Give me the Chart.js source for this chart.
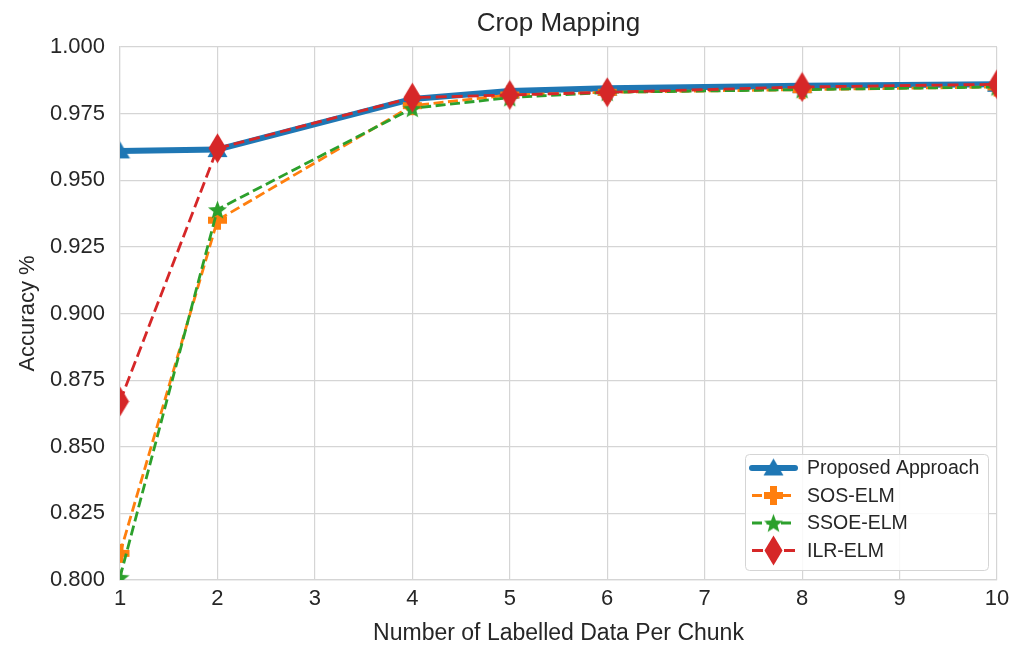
<!DOCTYPE html>
<html>
<head>
<meta charset="utf-8">
<script src="https://cdn.jsdelivr.net/npm/chart.js@4.4.1/dist/chart.umd.min.js"></script>
<style>
  html, body { margin: 0; padding: 0; background: #fff; }
  #wrap { width: 1025px; height: 648px; }
</style>
</head>
<body>
<div id="wrap"><canvas id="my_chart" width="1025" height="648"></canvas></div>
<script>
// data
const x_values = [1, 2, 4, 5, 6, 8, 10];
const proposed = [0.961, 0.9615, 0.9805, 0.9835, 0.9845, 0.9855, 0.986];
const sos_elm = [0.810, 0.935, 0.978, 0.982, 0.983, 0.984, 0.985];
const ssoe_elm = [0.801, 0.939, 0.977, 0.981, 0.983, 0.984, 0.985];
const ilr_elm = [0.867, 0.962, 0.981, 0.982, 0.983, 0.985, 0.986];
const series_names = ['Proposed Approach', 'SOS-ELM', 'SSOE-ELM', 'ILR-ELM'];
const colors = ['#1f77b4', '#ff7f0e', '#2ca02c', '#d62728'];

const FONT = "'Liberation Sans', Arial, sans-serif";

// marker images (matplotlib style filled markers)
function make_marker(kind, color) {
    const c = document.createElement('canvas');
    const w = kind === 'diamond' ? 19 : 21;
    const h = kind === 'diamond' ? 31 : 21;
    c.width = w; c.height = h;
    const g = c.getContext('2d');
    g.fillStyle = color;
    g.beginPath();
    if (kind === 'triangle') {
        g.moveTo(w / 2, 1); g.lineTo(w - 0.5, h - 3); g.lineTo(0.5, h - 3);
    } else if (kind === 'plus') {
        const a = 7, b = 14;
        g.moveTo(a, 1); g.lineTo(b, 1); g.lineTo(b, a); g.lineTo(w - 1, a);
        g.lineTo(w - 1, b); g.lineTo(b, b); g.lineTo(b, h - 1); g.lineTo(a, h - 1);
        g.lineTo(a, b); g.lineTo(1, b); g.lineTo(1, a); g.lineTo(a, a);
    } else if (kind === 'star') {
        for (let i = 0; i < 10; i++) {
            const r = i % 2 === 0 ? 10 : 4.2;
            const ang = -Math.PI / 2 + i * Math.PI / 5;
            const px = w / 2 + r * Math.cos(ang), py = h / 2 + 1 + r * Math.sin(ang);
            if (i === 0) g.moveTo(px, py); else g.lineTo(px, py);
        }
    } else {
        g.moveTo(w / 2, 0.5); g.lineTo(w - 0.5, h / 2); g.lineTo(w / 2, h - 0.5); g.lineTo(0.5, h / 2);
    }
    g.closePath();
    g.fill();
    return c;
}

const markers = [
    make_marker('triangle', colors[0]),
    make_marker('plus', colors[1]),
    make_marker('star', colors[2]),
    make_marker('diamond', colors[3])
];
const line_widths = [6, 2.8, 2.8, 2.8];
const dashes = [[], [10, 4.5], [10, 4.5], [11, 5]];
const series = [proposed, sos_elm, ssoe_elm, ilr_elm];

const datasets = series.map((vals, i) => ({
    label: series_names[i],
    data: vals.map((v, j) => ({ x: x_values[j], y: v })),
    borderColor: colors[i],
    backgroundColor: colors[i],
    borderWidth: line_widths[i],
    borderDash: dashes[i],
    pointStyle: markers[i],
    pointRadius: 10,
    pointHoverRadius: 10,
    tension: 0,
    clip: 0,
    order: 3 - i
}));

// title centered over the plot, legend drawn inside the plot (lower right)
const overlay = {
    id: 'overlay',
    afterDraw(chart) {
        const ctx = chart.ctx;
        const area = chart.chartArea;
        ctx.save();
        ctx.fillStyle = '#262626';
        ctx.font = `26px ${FONT}`;
        ctx.textAlign = 'center';
        ctx.textBaseline = 'middle';
        ctx.fillText('Crop Mapping', (area.left + area.right) / 2, 24);

        const bx = 745, by = 454, bw = 243, bh = 116;
        ctx.fillStyle = 'rgba(255,255,255,0.85)';
        ctx.strokeStyle = '#d5d5d5';
        ctx.lineWidth = 1;
        ctx.beginPath();
        ctx.roundRect(bx + 0.5, by + 0.5, bw, bh, 4);
        ctx.fill();
        ctx.stroke();

        ctx.font = `19.5px ${FONT}`;
        ctx.textAlign = 'left';
        series_names.forEach((name, i) => {
            const ry = by + 14 + i * 27.5;
            ctx.strokeStyle = colors[i];
            ctx.lineWidth = line_widths[i];
            ctx.lineCap = i === 0 ? 'round' : 'butt';
            ctx.setLineDash(dashes[i]);
            ctx.beginPath();
            ctx.moveTo(752, ry);
            ctx.lineTo(795, ry);
            ctx.stroke();
            ctx.setLineDash([]);
            const m = markers[i];
            ctx.drawImage(m, 773.5 - m.width / 2, ry - m.height / 2);
            ctx.fillStyle = '#262626';
            ctx.fillText(name, 807, ry + 1);
        });
        ctx.restore();
    }
};

const ctx = document.getElementById('my_chart').getContext('2d');
window.my_line_chart = new Chart(ctx, {
    type: 'line',
    data: { datasets: datasets },
    options: {
        responsive: false,
        animation: false,
        layout: { padding: { top: 47, right: 28, left: 0, bottom: 0 } },
        plugins: {
            legend: { display: false },
            title: { display: false },
            tooltip: { enabled: false }
        },
        scales: {
            x: {
                type: 'linear',
                min: 1,
                max: 10,
                afterFit(scale) { scale.height = 68; },
                ticks: {
                    stepSize: 1,
                    color: '#262626',
                    font: { family: FONT, size: 22 },
                    padding: 6
                },
                grid: { color: '#d5d5d5', lineWidth: 1.2, drawTicks: false },
                border: { color: '#d5d5d5', width: 1.2 },
                title: {
                    display: true,
                    text: 'Number of Labelled Data Per Chunk',
                    color: '#262626',
                    font: { family: FONT, size: 23 },
                    padding: { top: 0, bottom: 1 }
                }
            },
            y: {
                min: 0.8,
                max: 1.0,
                afterFit(scale) { scale.width = 120; },
                ticks: {
                    stepSize: 0.025,
                    color: '#262626',
                    font: { family: FONT, size: 22 },
                    padding: 15,
                    callback: v => v.toFixed(3)
                },
                grid: { color: '#d5d5d5', lineWidth: 1.2, drawTicks: false },
                border: { color: '#d5d5d5', width: 1.2 },
                title: {
                    display: true,
                    text: 'Accuracy %',
                    color: '#262626',
                    font: { family: FONT, size: 22 },
                    padding: { top: 15, bottom: 0 }
                }
            }
        }
    },
    plugins: [overlay]
});
</script>
</body>
</html>
